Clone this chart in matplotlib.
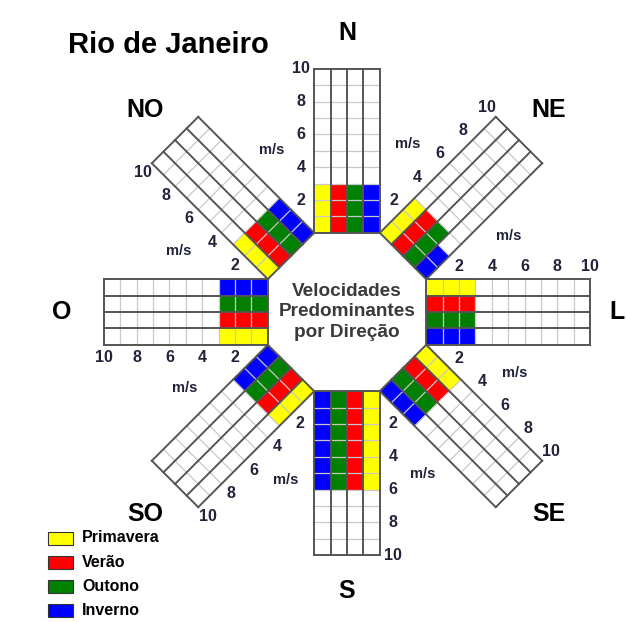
import numpy as np
import matplotlib.pyplot as plt
from matplotlib.patches import Polygon, Rectangle

plt.rcParams['font.family'] = ['Liberation Sans', 'DejaVu Sans']

# wind directions (Portuguese) and their compass bearing
directions = ["N", "NE", "L", "SE", "S", "SO", "O", "NO"]
bearings = [0, 45, 90, 135, 180, 225, 270, 315]

seasons = ["Primavera", "Verão", "Outono", "Inverno"]
season_colors = ["#ffff00", "#ff0000", "#008000", "#0000ff"]

# predominant speed (m/s) per direction for each season
primavera = [3, 3, 3, 3, 6, 3, 3, 3]
verao = [3, 3, 3, 3, 6, 3, 3, 3]
outono = [3, 3, 3, 3, 6, 3, 3, 3]
inverno = [3, 2, 3, 3, 6, 3, 3, 3]

ticks = [2, 4, 6, 8, 10]
vmax = 10

speeds = [primavera, verao, outono, inverno]

# geometry: one cell = 1 m/s along the bar, 1 season wide
unit = 16.4          # pixels per cell
cx, cy = 347, 312    # octagon centre in pixels
W, H = 627, 622
inner = 2 / np.tan(np.radians(22.5))   # octagon apothem for a 4-cell side


def to_xy(theta, along, across):
    t = np.radians(theta)
    d = np.array([np.sin(t), np.cos(t)])
    p = np.array([np.cos(t), -np.sin(t)])
    return (inner + along) * d + across * p


def px(x, y):
    return (x - cx) / unit, (cy - y) / unit


fig = plt.figure(figsize=(W / 100, H / 100), dpi=100)
ax = fig.add_axes([0, 0, 1, 1])
ax.set_xlim(-cx / unit, (W - cx) / unit)
ax.set_ylim(-(H - cy) / unit, cy / unit)
ax.axis("off")

dark = "#555555"
light = "#c8c8c8"
txt = "#22223a"

for k, theta in enumerate(bearings):
    # coloured season cells
    for i in range(4):
        v = speeds[i][k]
        a0, a1 = -2 + i, -1 + i
        pts = [to_xy(theta, 0, a0), to_xy(theta, v, a0),
               to_xy(theta, v, a1), to_xy(theta, 0, a1)]
        ax.add_patch(Polygon(pts, closed=True, facecolor=season_colors[i],
                             edgecolor="none", zorder=1))
    # cross lines (every 1 m/s)
    for s in range(1, vmax):
        p0, p1 = to_xy(theta, s, -2), to_xy(theta, s, 2)
        ax.plot([p0[0], p1[0]], [p0[1], p1[1]], color=light, lw=0.9, zorder=2)
    for s in (0, vmax):
        p0, p1 = to_xy(theta, s, -2), to_xy(theta, s, 2)
        ax.plot([p0[0], p1[0]], [p0[1], p1[1]], color=dark, lw=1.4, zorder=3)
    # row separators
    for a in range(-2, 3):
        p0, p1 = to_xy(theta, 0, a), to_xy(theta, vmax, a)
        ax.plot([p0[0], p1[0]], [p0[1], p1[1]], color=dark, lw=1.4, zorder=3)
    # speed labels
    for t in ticks:
        x, y = to_xy(theta, t, -2.8)
        ax.text(x, y, str(t), ha="center", va="center", fontsize=11.5,
                fontweight="bold", color=txt, zorder=4)
    # unit label
    r, b = 10.9, np.radians(theta + 20)
    ax.text(r * np.sin(b), r * np.cos(b), "m/s", ha="center", va="center",
            fontsize=10.5, fontweight="bold", color=txt, zorder=4)
    # direction name
    r = 17.0 if theta in (0, 180) else 17.4
    b = np.radians(theta)
    x, y = r * np.sin(b), r * np.cos(b)
    ha = "center"
    if theta == 90:
        x, ha = (W - 2 - cx) / unit, "right"
    ax.text(x, y, directions[k], ha=ha, va="center", fontsize=18,
            fontweight="bold", color="black")

ax.text(0, 0, "Velocidades\nPredominantes\npor Direção", ha="center",
        va="center", fontsize=13.7, fontweight="bold", color="#3a3a3a",
        linespacing=1.3)

tx, ty = px(68, 45)
ax.text(tx, ty, "Rio de Janeiro", ha="left", va="center", fontsize=21,
        fontweight="bold", color="black")

# legend
for i, name in enumerate(seasons):
    yc = 538 + i * 24.3
    x0, y0 = px(48, yc + 6.5)
    ax.add_patch(Rectangle((x0, y0), 25 / unit, 13 / unit,
                           facecolor=season_colors[i], edgecolor="#333333",
                           lw=0.8))
    lx, ly = px(82, yc)
    ax.text(lx, ly, name, ha="left", va="center", fontsize=11.5,
            fontweight="bold", color="black")

fig.savefig("out.png", dpi=100)
